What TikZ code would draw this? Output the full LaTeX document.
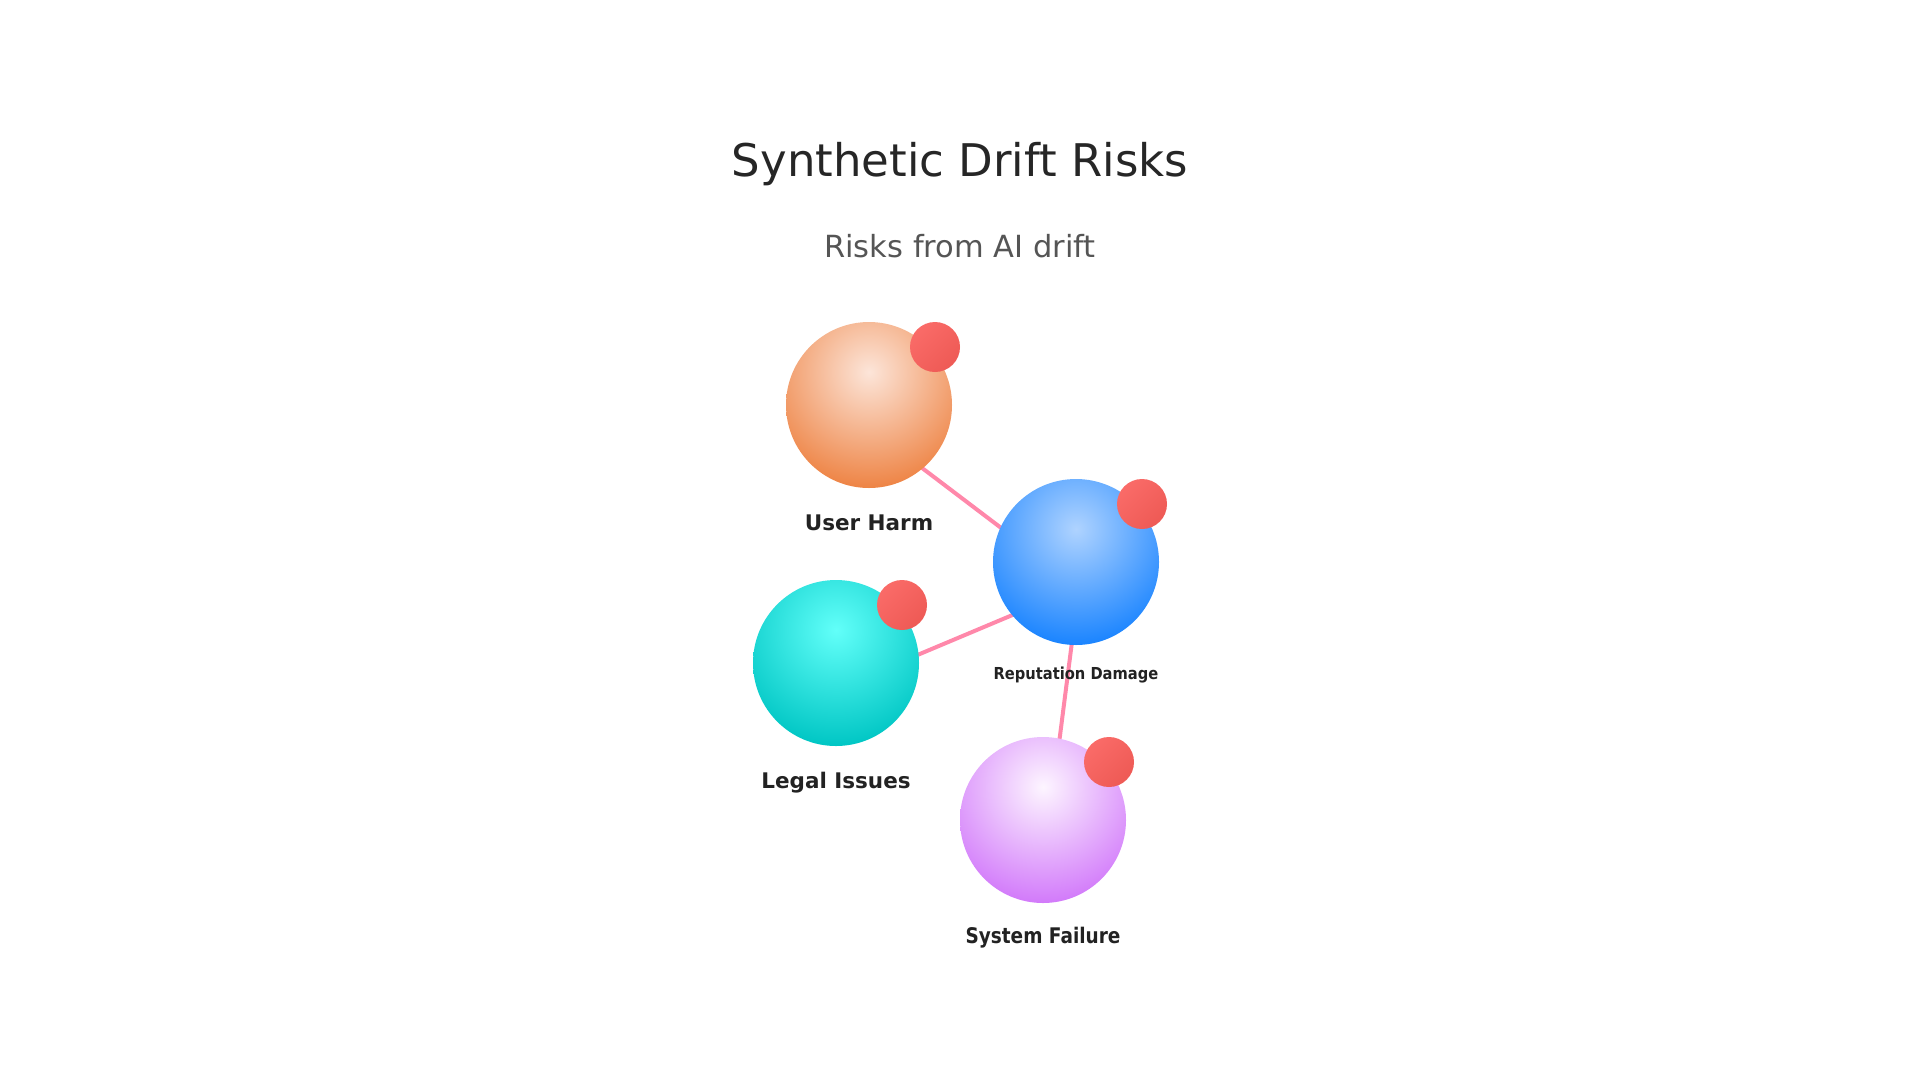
\documentclass[tikz,border=0pt]{standalone}
\usepackage{fontspec}
\setmainfont{DejaVu Sans}
\usetikzlibrary{calc,backgrounds}

\definecolor{titleink}{HTML}{262626}
\definecolor{subink}{HTML}{555555}
\definecolor{labelink}{HTML}{222222}
\definecolor{linkpink}{HTML}{FF88AA}
\definecolor{dotlight}{HTML}{FA6B68}
\definecolor{dotdark}{HTML}{EE5A55}
\definecolor{harmhi}{HTML}{FCE5D9}
\definecolor{harmlo}{HTML}{EE8445}
\definecolor{rephi}{HTML}{AFD3FF}
\definecolor{replo}{HTML}{1A84FF}
\definecolor{legalhi}{HTML}{62FFF9}
\definecolor{legallo}{HTML}{00C6C4}
\definecolor{failhi}{HTML}{FDF5FF}
\definecolor{faillo}{HTML}{D27AFA}

\pgfdeclareradialshading{harmball}{\pgfpointorigin}{color(0bp)=(harmhi); color(25bp)=(harmlo); color(50bp)=(harmlo)}
\pgfdeclareradialshading{repball}{\pgfpointorigin}{color(0bp)=(rephi); color(25bp)=(replo); color(50bp)=(replo)}
\pgfdeclareradialshading{legalball}{\pgfpointorigin}{color(0bp)=(legalhi); color(25bp)=(legallo); color(50bp)=(legallo)}
\pgfdeclareradialshading{failball}{\pgfpointorigin}{color(0bp)=(failhi); color(25bp)=(faillo); color(50bp)=(faillo)}

\tikzset{
  risk/.style={circle, minimum size=166, inner sep=0pt,
    path picture={\shade[shading=#1] ($(path picture bounding box.center)+(0,-33)$) circle (116);}},
  alert/.style={circle, minimum size=50, inner sep=0pt, top color=dotlight, bottom color=dotdark, shading angle=45},
  tag/.style={anchor=base, text=labelink, font=\bfseries\fontsize{21.5}{26}\selectfont},
  link/.style={draw=linkpink, line width=4, line cap=round}
}

\begin{document}
\begin{tikzpicture}[x=1pt, y=-1pt]
\useasboundingbox (0,0) rectangle (1920,1080);

\node[anchor=base, text=titleink, font=\fontsize{45}{54}\selectfont] (title) at (960,176) {Synthetic Drift Risks};
\node[anchor=base, text=subink, font=\fontsize{30.5}{36}\selectfont] (subtitle) at (960,257) {Risks from AI drift};

% risks
\node[risk=harmball] (harm) at (869,405) {};
\node[risk=repball] (rep) at (1076,562) {};
\node[risk=legalball] (legal) at (836,663) {};
\node[risk=failball] (fail) at (1043,820) {};

% badges
\foreach \n in {harm,rep,legal,fail}
  \node[alert] (\n-dot) at ($(\n)+(66,-58)$) {};

% names
\node[tag] (harmtag) at ($(harm.south)+(0,42)$) {User Harm};
\node[tag, font=\bfseries\fontsize{16.5}{20}\selectfont] (reptag) at ($(rep.south)+(0,34)$) {\scalebox{0.89}[1]{Reputation Damage}};
\node[tag] (legaltag) at ($(legal.south)+(0,42)$) {Legal Issues};
\node[tag] (failtag) at ($(fail.south)+(0,40)$) {\scalebox{0.86}[1]{System Failure}};

% links
\foreach \n in {harm,rep,legal,fail}
  \coordinate (\n-hub) at ($(\n)+(3,25)$);
\begin{scope}[on background layer]
\draw[link] (harm-hub) -- (rep-hub);
\draw[link] (legal-hub) -- (rep-hub);
\draw[link] (rep-hub) -- (fail-hub);
\end{scope}
\end{tikzpicture}
\end{document}
